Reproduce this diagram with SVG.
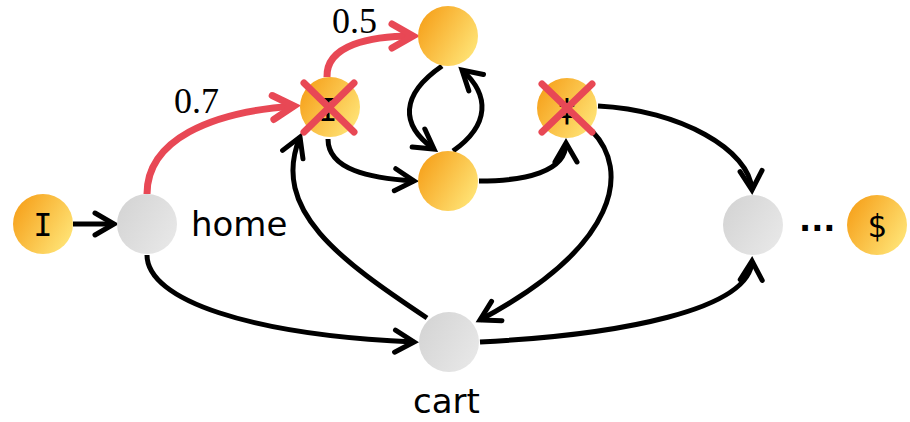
<svg xmlns="http://www.w3.org/2000/svg" width="910" height="422" viewBox="0 0 910 422">
<defs>
<linearGradient id="gOr" x1="0" y1="0.2" x2="1" y2="0.8">
<stop offset="0" stop-color="#F6A01A"/>
<stop offset="1" stop-color="#FFE679"/>
</linearGradient>
<linearGradient id="gGr" x1="0" y1="0.2" x2="1" y2="0.8">
<stop offset="0" stop-color="#D4D4D4"/>
<stop offset="1" stop-color="#E8E8E8"/>
</linearGradient>
<marker id="ab" markerUnits="userSpaceOnUse" markerWidth="40" markerHeight="40" viewBox="-30 -20 40 40" refX="0" refY="0" orient="auto">
<path d="M-19,-11 L0,0 L-19,11" fill="none" stroke="#000" stroke-width="5" stroke-linecap="round" stroke-linejoin="miter"/>
</marker>
<marker id="ar" markerUnits="userSpaceOnUse" markerWidth="44" markerHeight="44" viewBox="-32 -22 44 44" refX="0" refY="0" orient="auto">
<path d="M-21,-12 L0,0 L-21,12" fill="none" stroke="#E84855" stroke-width="7" stroke-linecap="round" stroke-linejoin="miter"/>
</marker>
</defs>
<style>
.e{fill:none;stroke:#000;stroke-width:5;marker-end:url(#ab)}
.r{fill:none;stroke:#E84855;stroke-width:7;marker-end:url(#ar)}
.on{fill:url(#gOr)}
.gn{fill:url(#gGr)}
.x{stroke:#E84855;stroke-width:7;stroke-linecap:round}
.sym{font-family:"DejaVu Sans Mono",monospace;font-size:32px;text-anchor:middle;fill:#000}
.lbl{font-family:"DejaVu Sans",sans-serif;font-size:34px;fill:#000}
.dots{font-family:"DejaVu Sans",sans-serif;font-size:32px;font-weight:bold;fill:#000}
.num{font-family:"Liberation Serif",serif;font-size:36px;fill:#000}
</style>
<g id="connectors">
<path class="e" d="M73,224 L114,224"/>
<path class="r" d="M147,194 C147,140 210,112 294,106"/>
<path class="r" d="M327,77 C326,45 370,36 413,36"/>
<path class="e" d="M442,66 C400,95 400,125 434,149"/>
<path class="e" d="M453,151 C490,125 490,95 462,70"/>
<path class="e" d="M328,139 C328,170 370,178 414,181"/>
<path class="e" d="M479,181 C525,181 566,172 566,143"/>
<path class="e" d="M598,106 C680,110 750,150 752,190"/>
<path class="e" d="M592,131 C630,170 620,245 480,320"/>
<path class="e" d="M427,318 C340,260 270,210 300,137"/>
<path class="e" d="M147,255 C147,300 250,335 414,342"/>
<path class="e" d="M480,342 C620,335 750,310 752,261"/>
<text class="num" x="174" y="113">0.7</text>
<text class="num" x="332" y="33">0.5</text>
</g>
<g id="node-start">
<circle class="on" cx="43" cy="224" r="30"/>
<text class="sym" x="43" y="236">I</text>
</g>
<g id="node-home">
<circle class="gn" cx="147" cy="224" r="30"/>
<text class="lbl" x="191" y="236">home</text>
</g>
<g id="node-x1">
<circle class="on" cx="330" cy="107" r="30"/>
<text class="sym" x="328" y="121">I</text>
<line class="x" x1="304" y1="83" x2="354" y2="132"/>
<line class="x" x1="354" y1="83" x2="304" y2="132"/>
</g>
<g id="node-top">
<circle class="on" cx="448" cy="36" r="30"/>
</g>
<g id="node-mid">
<circle class="on" cx="448" cy="181" r="30"/>
</g>
<g id="node-x2">
<circle class="on" cx="567" cy="108" r="30"/>
<text class="sym" x="567" y="121">‡</text>
<line class="x" x1="542" y1="84" x2="592" y2="132"/>
<line class="x" x1="592" y1="84" x2="542" y2="132"/>
</g>
<g id="node-right">
<circle class="gn" cx="753" cy="225" r="30"/>
<text class="dots" x="799" y="231">...</text>
</g>
<g id="node-end">
<circle class="on" cx="877" cy="225" r="30"/>
<text class="sym" x="877" y="237">$</text>
</g>
<g id="node-cart">
<circle class="gn" cx="449" cy="342" r="30"/>
<text class="lbl" x="413" y="413">cart</text>
</g>
</svg>
